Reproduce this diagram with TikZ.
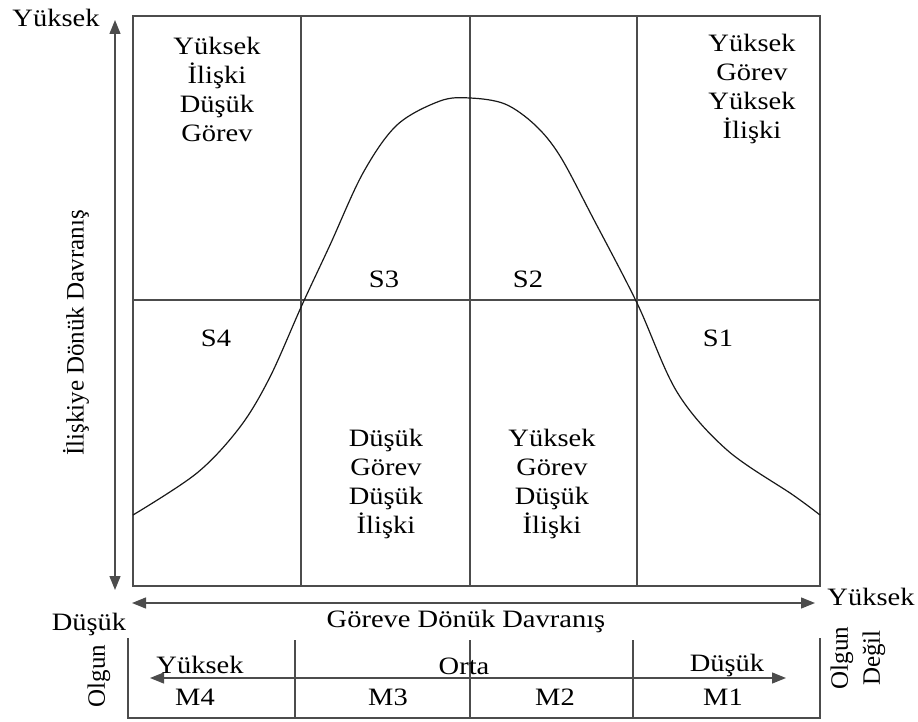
\documentclass[tikz,border=0pt]{standalone}
\usepackage{fontspec}
\setmainfont{Liberation Serif}[FakeStretch=1.14]
\newfontfamily\rotfont{Liberation Serif}
\usetikzlibrary{arrows.meta}
\begin{document}
\begin{tikzpicture}[x=1pt,y=-1pt,
  grid/.style={line width=1.3pt, draw=black!70},
  axis/.style={line width=1.3pt, draw=black!70, {Triangle[length=14pt,width=11pt]}-{Triangle[length=14pt,width=11pt]}},
  curve/.style={line width=1.2pt, draw=black!90},
  lbl/.style={font=\fontsize{25}{29}\selectfont, inner sep=0pt, align=center, text=black},
  rlbl/.style={font=\rotfont\fontsize{25}{32}\selectfont, inner sep=0pt, align=center, rotate=90, text=black},
]
\useasboundingbox (0,0) rectangle (918,722);
% main grid
\draw[grid] (133,16) rectangle (820,586);
\draw[grid] (301,16) -- (301,586);
\draw[grid] (470,16) -- (470,586);
\draw[grid] (637,16) -- (637,586);
\draw[grid] (133,300) -- (820,300);
% curve
\draw[curve] plot[smooth, tension=0.55] coordinates {
  (133,515) (197,473) (240,427) (270,377) (302,305) (330,245) (363,173)
  (397,125) (440,101) (470,98) (505,104) (535,125) (560,156) (593,218)
  (637,303) (677,392) (727,450) (793,495) (820,515)};
% axes
\coordinate (vt) at (115,20);
\coordinate (vb) at (115,590);
\draw[axis] (vb) -- (vt);
\coordinate (hl) at (132,603);
\coordinate (hr) at (815,603);
\draw[axis] (hl) -- (hr);
% axis labels
\node[lbl] (ytop) at (56,18) {Yüksek};
\node[lbl] (xright) at (871,597) {Yüksek};
\node[lbl] (xleft) at (89,624) {Düşük};
\node[lbl] (xlab) at (466,621) {Göreve Dönük Davranış};
\node[rlbl] (ylab) at (76,333) {İlişkiye Dönük Davranış};
% cell texts
\node[lbl] (c1) at (217,89) {Yüksek\\İlişki\\Düşük\\Görev};
\node[lbl] (c2) at (752,89) {Yüksek\\Görev\\Yüksek\\İlişki};
\node[lbl] (c3) at (386,484) {Düşük\\Görev\\Düşük\\İlişki};
\node[lbl] (c4) at (552,484) {Yüksek\\Görev\\Düşük\\İlişki};
\node[lbl] (s4) at (216,338) {S4};
\node[lbl] (s3) at (384,279) {S3};
\node[lbl] (s2) at (528,279) {S2};
\node[lbl] (s1) at (718,338) {S1};
% maturity table
\draw[grid] (128,638) -- (128,718) -- (820,718) -- (820,638);
\draw[grid] (295,640) -- (295,718);
\draw[grid] (470,640) -- (470,718);
\draw[grid] (633,640) -- (633,718);
\coordinate (ml) at (150,678);
\coordinate (mr) at (786,678);
\draw[axis] (ml) -- (mr);
\node[lbl] (t1) at (200,665) {Yüksek};
\node[lbl] (t2) at (464,666) {Orta};
\node[lbl] (t3) at (727,665) {Düşük};
\node[lbl] (m4) at (195,697) {M4};
\node[lbl] (m3) at (388,697) {M3};
\node[lbl] (m2) at (555,697) {M2};
\node[lbl] (m1) at (723,697) {M1};
\node[rlbl] (olg) at (99,676) {Olgun};
\node[rlbl] (olgd) at (858,658) {Olgun\\Değil};
\end{tikzpicture}
\end{document}
